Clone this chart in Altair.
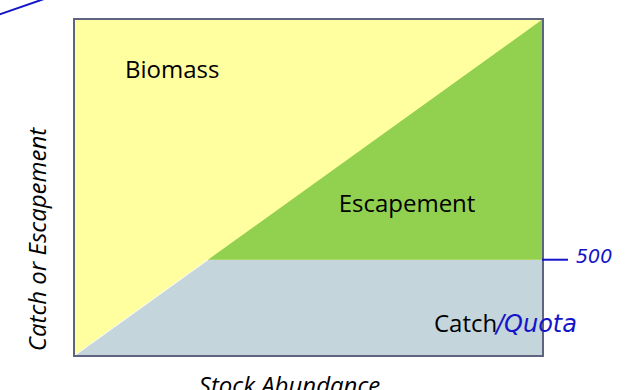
import altair as alt
import pandas as pd

# Stock abundance along the x axis and the split of each stock level
stock = [0, 500, 1750]
biomass = [0, 500, 1750]          # total stock on the diagonal
catch = [0, 500, 500]             # catch limited to the 500 quota
quota = 500
max_stock = 1750

df = pd.DataFrame({"stock": stock, "biomass": biomass, "catch": catch})
frame = pd.DataFrame({"x0": [0], "x1": [max_stock], "y0": [0], "y1": [max_stock]})
seam = df[df["stock"] <= quota]

YELLOW = "#FFFFA0"
GREEN = "#92D050"
GREY = "#C4D5DC"
INK = "#1414C8"
FONT = "Open Sans"

xs = alt.Scale(domain=[0, max_stock], nice=False, zero=True)
ys = alt.Scale(domain=[0, max_stock], nice=False, zero=True)

x_axis = alt.Axis(
    title="Stock Abundance", labels=False, ticks=False, domain=False, grid=False,
    titleFont=FONT, titleFontSize=24, titleFontWeight="normal", titleFontStyle="italic",
    titleColor="black", titleX=215, titleY=37, titleBaseline="alphabetic",
    titleAlign="center", titleAnchor="start",
)
y_axis = alt.Axis(
    title="Catch or Escapement", labels=False, ticks=False, domain=False, grid=False,
    titleFont=FONT, titleFontSize=24, titleFontWeight="normal", titleFontStyle="italic",
    titleColor="black", titleX=-36, titleY=220, titleAngle=270,
    titleAlign="center", titleBaseline="middle", titleAnchor="start",
)

background = alt.Chart(frame).mark_rect(color=YELLOW).encode(
    x=alt.X("x0:Q", scale=xs, axis=x_axis),
    x2="x1:Q",
    y=alt.Y("y0:Q", scale=ys, axis=y_axis),
    y2="y1:Q",
)

catch_area = alt.Chart(df).mark_area(color=GREY).encode(
    x=alt.X("stock:Q", scale=xs),
    y=alt.Y("catch:Q", scale=ys),
)

escape_area = alt.Chart(df).mark_area(color=GREEN).encode(
    x=alt.X("stock:Q", scale=xs),
    y=alt.Y("biomass:Q", scale=ys),
    y2="catch:Q",
)

seam_line = alt.Chart(seam).mark_line(color="white", strokeWidth=1, opacity=0.9).encode(
    x=alt.X("stock:Q", scale=xs),
    y=alt.Y("biomass:Q", scale=ys),
)

border = alt.Chart(frame).mark_rect(
    filled=False, stroke="#5E6380", strokeWidth=2, fillOpacity=0
).encode(
    x=alt.X("x0:Q", scale=xs),
    x2="x1:Q",
    y=alt.Y("y0:Q", scale=ys),
    y2="y1:Q",
)

def label(text, x, y, color="black", align="left", size=24, font=FONT, style="normal"):
    return alt.Chart(pd.DataFrame({"t": [text]})).mark_text(
        align=align, baseline="alphabetic", font=font, fontSize=size,
        fontStyle=style, color=color,
    ).encode(text="t:N", x=alt.value(x), y=alt.value(y))

biomass_lbl = label("Biomass", 51, 59)
escape_lbl = label("Escapement", 333, 193, align="center")
catch_lbl = label("Catch", 360, 313)
quota_lbl = label("/Quota", 422, 313, color=INK, font="DejaVu Sans", size=24, style="italic")

# handwritten 500 mark beside the quota line
quota_tick = alt.Chart(pd.DataFrame({"q": [quota]})).mark_rule(color=INK, strokeWidth=2).encode(
    x=alt.value(468), x2=alt.value(494), y=alt.Y("q:Q", scale=ys),
)
quota_num = alt.Chart(pd.DataFrame({"t": [str(quota)]})).mark_text(
    align="left", baseline="middle", font="DejaVu Sans", fontSize=19,
    fontStyle="italic", color=INK,
).encode(text="t:N", x=alt.value(502), y=alt.value(238))

pen_stroke = alt.Chart(pd.DataFrame({"a": [0]})).mark_rule(color=INK, strokeWidth=2).encode(
    x=alt.value(-76), y=alt.value(-4), x2=alt.value(-30), y2=alt.value(-20),
)

chart = alt.layer(
    background, catch_area, escape_area, seam_line, border,
    biomass_lbl, escape_lbl, catch_lbl, quota_lbl, quota_tick, quota_num, pen_stroke,
).properties(
    width=469, height=337,
    autosize=alt.AutoSizeParams(type="none"),
    padding={"left": 74, "top": 19, "right": 99, "bottom": 34},
).configure_view(
    stroke=None,
).configure(background="white")

chart.save("out.html", embed_options={"renderer": "svg", "actions": False})
